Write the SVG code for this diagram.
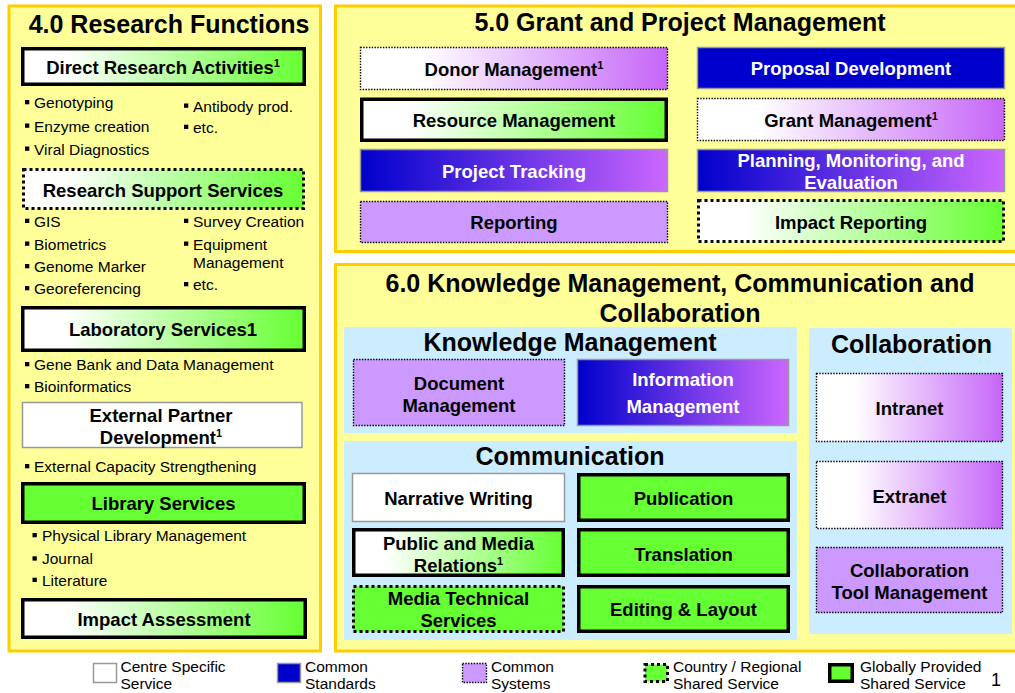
<svg xmlns="http://www.w3.org/2000/svg" width="1015" height="693" viewBox="0 0 1015 693">
<defs>
<linearGradient id="wg" x1="0" y1="0" x2="1" y2="0"><stop offset="0" stop-color="#FFFFFF"/><stop offset="0.15" stop-color="#FFFFFF"/><stop offset="1" stop-color="#66FF33"/></linearGradient>
<linearGradient id="wp" x1="0" y1="0" x2="1" y2="0"><stop offset="0" stop-color="#FFFFFF"/><stop offset="0.2" stop-color="#FFFFFF"/><stop offset="1" stop-color="#C666F8"/></linearGradient>
<linearGradient id="bp" x1="0" y1="0" x2="1" y2="0"><stop offset="0" stop-color="#0000CC"/><stop offset="1" stop-color="#CC66FF"/></linearGradient>
<style>
text{font-family:"Liberation Sans",Arial,sans-serif;fill:#000}
.panel{fill:#FFFF99;stroke:#FFCC00;stroke-width:3}
.sub{fill:#CCECFF}
.h1{font-size:25px;font-weight:bold;text-anchor:middle}
.t{font-size:18.5px;font-weight:bold;text-anchor:middle}
.w{fill:#FFFFFF}
.b{font-size:15.5px}
.lg{font-size:15.5px}
.sup{font-size:11px}
.thin{stroke:#999999;stroke-width:1.5}
.dot{stroke:#000;stroke-width:1.4;stroke-dasharray:1.4 1.4}
.tdot{stroke:#000;stroke-width:3;stroke-dasharray:3 3}
.solid{stroke:#000;stroke-width:3.5}
.green{fill:#66FF33}
.lp{fill:#CC99FF}
.blue{fill:#0000CC}
.white{fill:#FFFFFF}
.gwg{fill:url(#wg)}
.gwp{fill:url(#wp)}
.gbp{fill:url(#bp)}
.bl{fill:#000}
</style>
</defs>
<rect width="1015" height="693" fill="#FFFFFF"/>

<!-- Panels -->
<rect class="panel" x="9" y="6" width="311.5" height="645"/>
<rect class="panel" x="335.5" y="6" width="690" height="245.5"/>
<rect class="panel" x="335.5" y="264.5" width="690" height="386.5"/>
<rect class="sub" x="344" y="327" width="453" height="106"/>
<rect class="sub" x="344" y="441" width="453" height="199"/>
<rect class="sub" x="809" y="328" width="203" height="306"/>

<text class="h1" x="169" y="32.5">4.0 Research Functions</text>
<text class="h1" x="680" y="31">5.0 Grant and Project Management</text>
<text class="h1" x="680" y="292">6.0 Knowledge Management, Communication and</text>
<text class="h1" x="680" y="321.5">Collaboration</text>
<text class="h1" x="570" y="351">Knowledge Management</text>
<text class="h1" x="911.5" y="352.5">Collaboration</text>
<text class="h1" x="570" y="465">Communication</text>

<!-- 4.0 nodes -->
<g id="direct-research">
<rect class="gwg solid" x="22.75" y="48.75" width="281.5" height="35.5"/>
<text class="t" x="163" y="74">Direct Research Activities<tspan class="sup" dy="-7">1</tspan></text>
</g>
<g id="direct-research-items">
<rect class="bl" x="25" y="100" width="4.3" height="4.3"/><text class="b" x="34" y="108">Genotyping</text>
<rect class="bl" x="25" y="123.5" width="4.3" height="4.3"/><text class="b" x="34" y="131.5">Enzyme creation</text>
<rect class="bl" x="25" y="146.5" width="4.3" height="4.3"/><text class="b" x="34" y="154.5">Viral Diagnostics</text>
<rect class="bl" x="184" y="103.5" width="4.3" height="4.3"/><text class="b" x="193" y="111.5">Antibody prod.</text>
<rect class="bl" x="184" y="124.7" width="4.3" height="4.3"/><text class="b" x="193" y="132.7">etc.</text>
</g>
<g id="research-support">
<rect class="gwg tdot" x="23.5" y="169.5" width="280" height="39"/>
<text class="t" x="163" y="196.5">Research Support Services</text>
</g>
<g id="research-support-items">
<rect class="bl" x="25" y="218.7" width="4.3" height="4.3"/><text class="b" x="34" y="226.7">GIS</text>
<rect class="bl" x="25" y="241.5" width="4.3" height="4.3"/><text class="b" x="34" y="249.5">Biometrics</text>
<rect class="bl" x="25" y="264" width="4.3" height="4.3"/><text class="b" x="34" y="272">Genome Marker</text>
<rect class="bl" x="25" y="286" width="4.3" height="4.3"/><text class="b" x="34" y="294">Georeferencing</text>
<rect class="bl" x="184" y="218.7" width="4.3" height="4.3"/><text class="b" x="193" y="226.7">Survey Creation</text>
<rect class="bl" x="184" y="241.5" width="4.3" height="4.3"/><text class="b" x="193" y="249.5">Equipment</text>
<text class="b" x="193" y="268">Management</text>
<rect class="bl" x="184" y="282" width="4.3" height="4.3"/><text class="b" x="193" y="290">etc.</text>
</g>
<g id="laboratory">
<rect class="gwg solid" x="22.75" y="307.75" width="281.5" height="42.5"/>
<text class="t" x="163" y="335.5">Laboratory Services1</text>
</g>
<g id="laboratory-items">
<rect class="bl" x="25" y="362" width="4.3" height="4.3"/><text class="b" x="34" y="370">Gene Bank and Data Management</text>
<rect class="bl" x="25" y="384" width="4.3" height="4.3"/><text class="b" x="34" y="392">Bioinformatics</text>
</g>
<g id="external-partner">
<rect class="white thin" x="22.5" y="402.5" width="279.5" height="45"/>
<text class="t" x="161" y="421.7">External Partner</text>
<text class="t" x="161" y="444">Development<tspan class="sup" dy="-7">1</tspan></text>
</g>
<g id="external-partner-items">
<rect class="bl" x="25" y="464" width="4.3" height="4.3"/><text class="b" x="34" y="472">External Capacity Strengthening</text>
</g>
<g id="library">
<rect class="green solid" x="22.75" y="483.75" width="281.5" height="38.5"/>
<text class="t" x="163.5" y="510">Library Services</text>
</g>
<g id="library-items">
<rect class="bl" x="32.5" y="533" width="4.3" height="4.3"/><text class="b" x="42" y="541">Physical Library Management</text>
<rect class="bl" x="32.5" y="556.3" width="4.3" height="4.3"/><text class="b" x="42" y="564.3">Journal</text>
<rect class="bl" x="32.5" y="577.7" width="4.3" height="4.3"/><text class="b" x="42" y="585.7">Literature</text>
</g>
<g id="impact-assessment">
<rect class="gwg solid" x="22.75" y="599.75" width="282.5" height="37.5"/>
<text class="t" x="164" y="626">Impact Assessment</text>
</g>

<!-- 5.0 nodes -->
<g id="donor-management">
<rect class="gwp dot" x="360.5" y="47.5" width="307" height="42"/>
<text class="t" x="514" y="76">Donor Management<tspan class="sup" dy="-7">1</tspan></text>
</g>
<g id="proposal-development">
<rect class="blue thin" x="697.5" y="47.5" width="307" height="41"/>
<text class="t w" x="851" y="75.3">Proposal Development</text>
</g>
<g id="resource-management">
<rect class="gwg solid" x="361.75" y="99.25" width="304.5" height="41"/>
<text class="t" x="514" y="127">Resource Management</text>
</g>
<g id="grant-management">
<rect class="gwp dot" x="697.5" y="98.5" width="307" height="42"/>
<text class="t" x="851" y="126.5">Grant Management<tspan class="sup" dy="-7">1</tspan></text>
</g>
<g id="project-tracking">
<rect class="gbp thin" x="360.5" y="149.5" width="307" height="42"/>
<text class="t w" x="514" y="177.5">Project Tracking</text>
</g>
<g id="planning-monitoring">
<rect class="gbp thin" x="697.5" y="149.5" width="307" height="42"/>
<text class="t w" x="851" y="166.7">Planning, Monitoring, and</text>
<text class="t w" x="851" y="188.7">Evaluation</text>
</g>
<g id="reporting">
<rect class="lp dot" x="360.5" y="201.5" width="307" height="41"/>
<text class="t" x="514" y="229.3">Reporting</text>
</g>
<g id="impact-reporting">
<rect class="gwg tdot" x="698.5" y="200.5" width="305" height="41"/>
<text class="t" x="851" y="229">Impact Reporting</text>
</g>

<!-- 6.0 nodes -->
<g id="document-management">
<rect class="lp dot" x="353.5" y="359.5" width="211" height="66"/>
<text class="t" x="459" y="389.5">Document</text>
<text class="t" x="459" y="411.5">Management</text>
</g>
<g id="information-management">
<rect class="gbp thin" x="577.5" y="359.5" width="211" height="66"/>
<text class="t w" x="683" y="386">Information</text>
<text class="t w" x="683" y="413">Management</text>
</g>
<g id="intranet">
<rect class="gwp dot" x="816.5" y="373.5" width="186" height="68"/>
<text class="t" x="909.5" y="415">Intranet</text>
</g>
<g id="narrative-writing">
<rect class="white thin" x="352.5" y="473.5" width="212" height="48"/>
<text class="t" x="458.5" y="505">Narrative Writing</text>
</g>
<g id="publication">
<rect class="green solid" x="578.75" y="474.75" width="209.5" height="45.5"/>
<text class="t" x="683.5" y="505">Publication</text>
</g>
<g id="public-media-relations">
<rect class="gwg solid" x="353.75" y="529.75" width="209.5" height="45.5"/>
<text class="t" x="458.5" y="550">Public and Media</text>
<text class="t" x="458.5" y="572">Relations<tspan class="sup" dy="-7">1</tspan></text>
</g>
<g id="translation">
<rect class="green solid" x="578.75" y="529.75" width="209.5" height="45.5"/>
<text class="t" x="683.5" y="560.7">Translation</text>
</g>
<g id="media-technical-services">
<rect class="green tdot" x="353.5" y="586.5" width="210" height="45"/>
<text class="t" x="458.5" y="605">Media Technical</text>
<text class="t" x="458.5" y="626.7">Services</text>
</g>
<g id="editing-layout">
<rect class="green solid" x="578.75" y="586.75" width="209.5" height="44.5"/>
<text class="t" x="683.5" y="616">Editing &amp; Layout</text>
</g>
<g id="extranet">
<rect class="gwp dot" x="816.5" y="461.5" width="186" height="67"/>
<text class="t" x="909.5" y="502.7">Extranet</text>
</g>
<g id="collaboration-tool-management">
<rect class="lp dot" x="816.5" y="547.5" width="186" height="65"/>
<text class="t" x="909.5" y="576.7">Collaboration</text>
<text class="t" x="909.5" y="599.3">Tool Management</text>
</g>

<g id="connectors"></g>

<!-- Legend -->
<g id="legend">
<rect class="white thin" x="93.5" y="663.5" width="23" height="19"/>
<text class="lg" x="120.5" y="671.5">Centre Specific</text>
<text class="lg" x="120.5" y="688.5">Service</text>
<rect class="blue thin" x="277.5" y="663.5" width="23" height="19"/>
<text class="lg" x="305" y="671.5">Common</text>
<text class="lg" x="305" y="688.5">Standards</text>
<rect class="lp dot" x="462.5" y="663.5" width="24" height="19"/>
<text class="lg" x="491" y="671.5">Common</text>
<text class="lg" x="491" y="688.5">Systems</text>
<rect class="green tdot" x="645" y="664.5" width="22.5" height="17"/>
<text class="lg" x="673" y="671.5">Country / Regional</text>
<text class="lg" x="673" y="688.5">Shared Service</text>
<rect class="green solid" x="829.75" y="664.75" width="22.5" height="16.5"/>
<text class="lg" x="860" y="671.5">Globally Provided</text>
<text class="lg" x="860" y="688.5">Shared Service</text>
<text x="996" y="686" font-size="18" text-anchor="middle">1</text>
</g>
</svg>
